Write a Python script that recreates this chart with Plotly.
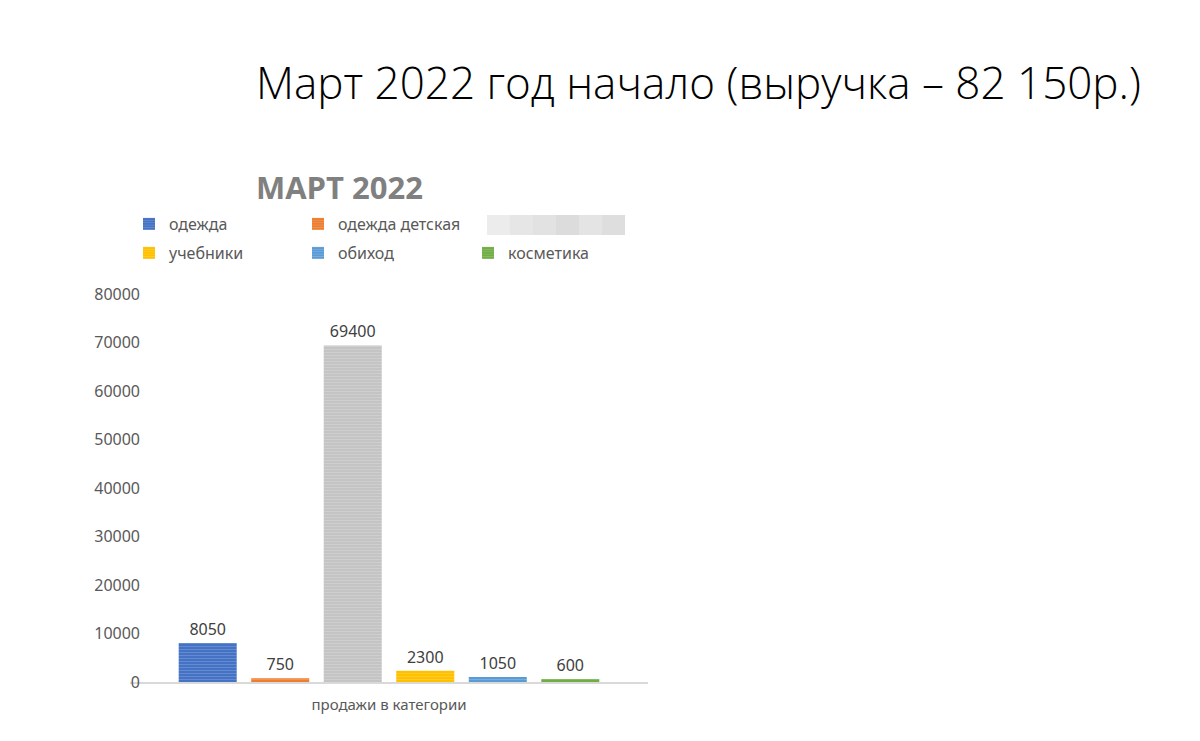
import plotly.graph_objects as go

categories = ["продажи в категории"]
series_names = ["одежда", "одежда детская", "скрыто", "учебники", "обиход", "косметика"]
series_values = [8050, 750, 69400, 2300, 1050, 600]
series_colors = ["#4472C4", "#ED7D31", "#C4C4C4", "#FFC000", "#5B9BD5", "#70AD47"]
legend_ids = ["legend", "legend2", None, "legend3", "legend4", "legend5"]
y_ticks = [0, 10000, 20000, 30000, 40000, 50000, 60000, 70000, 80000]

FONT = "Noto Sans, Open Sans, sans-serif"
GREY = "#595959"

L, R, T, B = 130, 648, 294, 682
W, H = 1200, 741
def px(x):
    return (x - L) / (R - L)
def py(y):
    return (B - y) / (B - T)

fig = go.Figure()
for name, val, col, lg in zip(series_names, series_values, series_colors, legend_ids):
    fig.add_trace(go.Bar(
        x=categories, y=[val], name=name,
        marker=dict(color=col, line=dict(width=0),
                    pattern=dict(shape="-", fgcolor="rgba(255,255,255,0.35)", size=3, solidity=0.35)),
        text=[str(val)], textposition="outside", cliponaxis=False,
        textfont=dict(family=FONT, size=16, color="#404040"),
        showlegend=lg is not None,
        legend=lg if lg else "legend",
    ))

shapes = []
# redacted legend entry (pixelated block in the reference)
blocks = ["#ececec", "#e6e6e6", "#e2e2e2", "#dcdcdc", "#e4e4e4", "#dedede"]
bx0, bx1 = 487, 625
bw = (bx1 - bx0) / len(blocks)
for i, c in enumerate(blocks):
    shapes.append(dict(type="rect", xref="paper", yref="paper",
                       x0=px(bx0 + i * bw), x1=px(bx0 + (i + 1) * bw),
                       y0=py(235), y1=py(215), fillcolor=c, line=dict(width=0), layer="above"))

annotations = [
    dict(text="Март 2022 год начало (выручка – 82 150р.)", xref="paper", yref="paper",
         x=px(1143), y=py(82), xanchor="right", yanchor="middle", showarrow=False,
         font=dict(family="Open Sans, Noto Sans, sans-serif", size=44, color="#000000", weight=300)),
    dict(text="<b>МАРТ 2022</b>", xref="paper", yref="paper",
         x=px(339), y=py(187), xanchor="center", yanchor="middle", showarrow=False,
         font=dict(family="Open Sans, Noto Sans, sans-serif", size=31, color="#808080")),
]

def leg(xpx, ypx):
    return dict(orientation="h", xanchor="left", yanchor="middle", x=px(xpx), y=py(ypx),
                itemwidth=30, font=dict(family=FONT, size=16, color=GREY),
                bgcolor="rgba(0,0,0,0)")

fig.update_layout(
    width=W, height=H,
    margin=dict(l=L, r=W - R, t=T, b=H - B),
    paper_bgcolor="white", plot_bgcolor="white",
    barmode="group", bargap=0.16, bargroupgap=0.2,
    font=dict(family=FONT, color=GREY, size=16),
    showlegend=True,
    legend=leg(129, 224),
    legend2=leg(298, 224),
    legend3=leg(129, 253),
    legend4=leg(298, 253),
    legend5=leg(468, 253),
    shapes=shapes,
    annotations=annotations,
    xaxis=dict(showline=True, linecolor="#D9D9D9", linewidth=1.5, ticks="", showgrid=False,
               tickfont=dict(family=FONT, size=15, color=GREY), ticklabelstandoff=8),
    yaxis=dict(range=[0, 80000], tickvals=y_ticks, ticktext=[str(v) for v in y_ticks],
               showgrid=False, zeroline=False, showline=False,
               ticks="", tickfont=dict(family=FONT, size=16, color=GREY), ticklabelstandoff=-11),
)

fig.write_html("out.html")
